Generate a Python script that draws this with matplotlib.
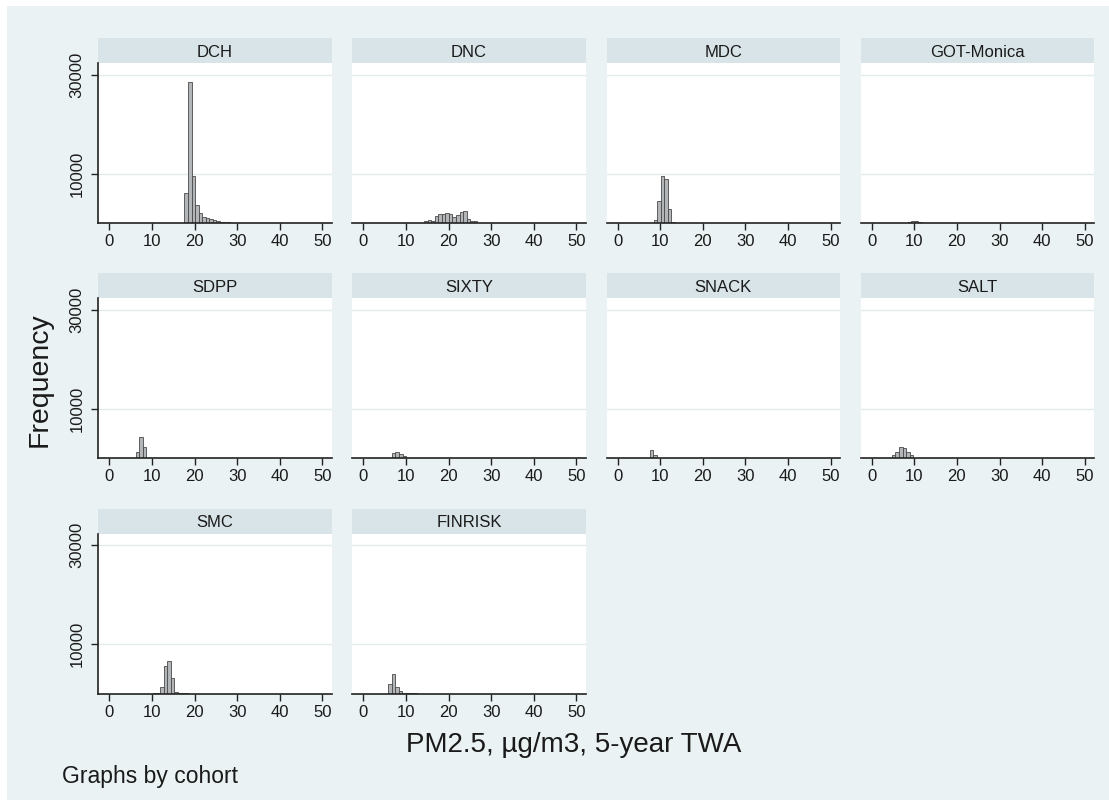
import numpy as np
import matplotlib
matplotlib.use("Agg")
import matplotlib.pyplot as plt
from matplotlib.patches import Rectangle

plt.rcParams['font.family'] = ['Liberation Sans', 'DejaVu Sans']

# ---------------------------------------------------------------- data
BIN_W = 0.83  # histogram bin width (µg/m3)

cohorts = ["DCH", "DNC", "MDC", "GOT-Monica",
           "SDPP", "SIXTY", "SNACK", "SALT",
           "SMC", "FINRISK"]

# left edge of the first bin and the bin frequencies for each cohort
dch_start = 15.13
dch_counts = [60, 80, 120, 6200, 28500, 9450, 3600, 2000, 1200, 1000, 900, 700, 400,
              250, 200, 180, 150, 130, 120, 100, 100, 90, 80, 80, 0,
              70, 70, 70, 70, 70, 0, 0, 60]

dnc_start = 10.955
dnc_counts = [60, 80, 100, 120, 470, 740, 400, 1550, 1960, 1960, 2160, 1960, 1200,
              1690, 2300, 2430, 880, 540, 540,
              160, 140, 120, 110, 100, 100, 90, 90, 80, 80, 80, 70, 70, 70, 60, 60,
              0, 60, 60, 0, 60, 0, 60, 0, 60]

mdc_start = 6.78
mdc_counts = [50, 50, 750, 4600, 9500, 8850, 2850, 350, 120, 80]

got_start = 6.8
got_counts = [80, 100, 270, 470, 470, 200, 90, 80, 70, 60, 60]

sdpp_start = 6.2
sdpp_counts = [1200, 4200, 2330, 150, 100, 80, 80,
               0, 0, 0, 0, 0, 0, 0, 0, 0, 0, 0, 60, 0, 60]

sixty_start = 5.04
sixty_counts = [80, 90, 1130, 1330, 870, 470, 120, 100, 90, 80, 80, 70, 70]

snack_start = 5.9
snack_counts = [70, 90, 1670, 670, 120, 90, 80, 70]

salt_start = 4.76
salt_counts = [670, 1330, 2330, 2000, 1200, 670, 120, 100, 90, 80, 70, 70]

smc_start = 9.41
smc_counts = [60, 70, 80, 1300, 5660, 6600, 3240, 400, 120, 100, 80]

finrisk_start = 5.85
finrisk_counts = [2070, 4070, 1310, 480, 150, 100, 80, 70]

bin_starts = [dch_start, dnc_start, mdc_start, got_start, sdpp_start,
              sixty_start, snack_start, salt_start, smc_start, finrisk_start]
bin_counts = [dch_counts, dnc_counts, mdc_counts, got_counts, sdpp_counts,
              sixty_counts, snack_counts, salt_counts, smc_counts, finrisk_counts]

x_ticks = [0, 10, 20, 30, 40, 50]
y_ticks = [10000, 30000]

# ---------------------------------------------------------------- style
W, H = 1109, 800
BG = '#eaf2f3'
STRIP = '#d8e4e8'
GRID = '#e2ebee'
BAR_FACE = '#b2b6b8'
BAR_EDGE = '#4a4a4a'
INK = '#1a1a1a'

fig = plt.figure(figsize=(W / 100, H / 100), dpi=100, facecolor='white')
fig.patches.append(Rectangle((7 / W, 0), 1 - 7 / W, 1 - 6 / H,
                             transform=fig.transFigure, facecolor=BG,
                             edgecolor='none', zorder=-10))


def px_axes(left, top, width, height):
    return fig.add_axes([left / W, 1 - (top + height) / H, width / W, height / H])


col_left = [98.3, 352.3, 606.5, 860.6]
row_axis = [223.3, 458.3, 693.8]
PANEL_W, PANEL_H, STRIP_H = 233.5, 160.0, 25.0

for i, name in enumerate(cohorts):
    r, c = divmod(i, 4)
    left = col_left[c]
    top = row_axis[r] - PANEL_H

    # cohort title band
    hx = px_axes(left, top - STRIP_H, PANEL_W, STRIP_H)
    hx.set_facecolor(STRIP)
    hx.set_xticks([])
    hx.set_yticks([])
    for s in hx.spines.values():
        s.set_visible(False)
    hx.text(0.5, 0.45, name, transform=hx.transAxes, ha='center', va='center',
            fontsize=12, color=INK)

    ax = px_axes(left, top, PANEL_W, PANEL_H)
    ax.set_facecolor('white')
    counts = np.asarray(bin_counts[i], dtype=float)
    edges = bin_starts[i] + BIN_W * np.arange(len(counts))
    keep = counts > 0
    ax.bar(edges[keep], counts[keep], width=BIN_W, align='edge',
           color=BAR_FACE, edgecolor=BAR_EDGE, linewidth=0.6, zorder=2)

    ax.set_xlim(-2.6, 52.2)
    ax.set_ylim(0, 32300)
    ax.set_xticks(x_ticks)
    ax.set_xticklabels([str(t) for t in x_ticks])
    ax.set_yticks(y_ticks)
    ax.set_yticklabels([str(t) for t in y_ticks], rotation=90, va='center')
    ax.set_axisbelow(True)
    ax.yaxis.grid(True, color=GRID, linewidth=1.0)
    ax.xaxis.grid(False)

    for s in ('top', 'right'):
        ax.spines[s].set_visible(False)
    ax.spines['bottom'].set_color('#222222')
    ax.spines['bottom'].set_linewidth(1.2)
    ax.spines['left'].set_color('#222222')
    ax.spines['left'].set_linewidth(1.2)

    ax.tick_params(axis='x', direction='out', length=4.8, width=1.0,
                   color='#222222', labelsize=12, labelcolor=INK, pad=3)
    if c == 0:
        ax.tick_params(axis='y', direction='out', length=4.8, width=1.0,
                       color='#222222', labelsize=12, labelcolor=INK, pad=5)
    else:
        ax.spines['left'].set_visible(False)
        ax.tick_params(axis='y', left=False, labelleft=False)

fig.text(40 / W, 1 - 380 / H, 'Frequency', rotation=90, ha='center', va='center',
         fontsize=20.5, color=INK)
fig.text(574 / W, 1 - 745 / H, 'PM2.5, µg/m3, 5-year TWA', ha='center', va='center',
         fontsize=20, color=INK)
fig.text(62 / W, 1 - 776 / H, 'Graphs by cohort', ha='left', va='center',
         fontsize=16.5, color=INK)

fig.savefig('out.png', dpi=100, facecolor=fig.get_facecolor())
